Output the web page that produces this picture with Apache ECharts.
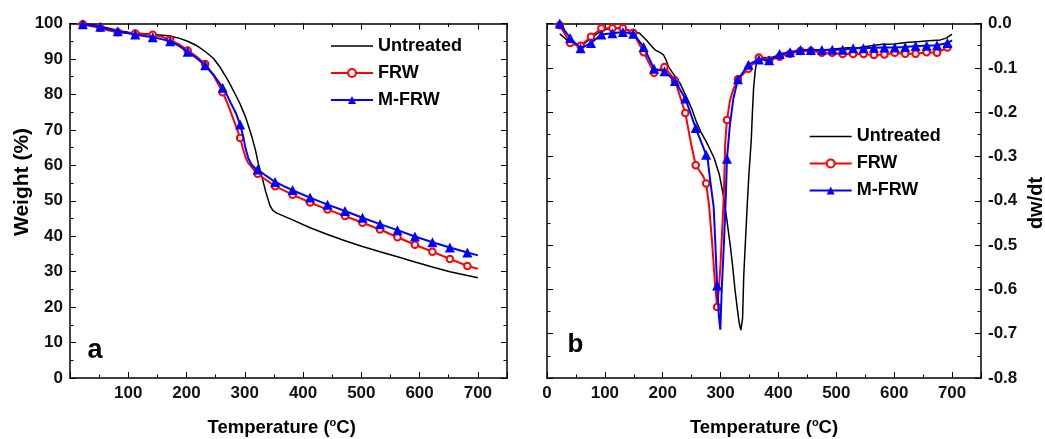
<!DOCTYPE html>
<html>
<head>
<meta charset="utf-8">
<script src="https://cdn.jsdelivr.net/npm/echarts@6/dist/echarts.min.js"></script>
<style>
  html, body { margin: 0; padding: 0; background: #fff; }
  #chart { width: 1045px; height: 439px; }
</style>
</head>
<body>
<div id="chart"></div>
<script>
// ---------- DATA ----------
const seriesNames = ['Untreated', 'FRW', 'M-FRW'];

// (a) TGA: weight (%) vs temperature (°C)
const tgaMarkT = [22,52,82,112,142,172,202,232,262,292,322,352,382,412,442,472,502,532,562,592,622,652,682];

const tgaUntreatedT = [22,40,52,70,82,100,112,130,142,160,172,188,202,217,232,246,257,270,282,292,302,312,318,323,329,336,343,348,355,362,382,412,442,472,502,532,562,592,622,652,682,700];
const tgaUntreatedV = [100,99.6,99.2,98.5,98.0,97.5,97.3,97.1,96.9,96.7,96.5,95.8,95.0,93.8,92.1,90.2,87.8,84.3,80.6,77.3,73.3,68.1,64.5,60.6,57.0,52.5,48.7,47.3,46.5,46.0,44.6,42.4,40.5,38.7,37.1,35.6,34.2,32.7,31.3,30.0,28.9,28.3];

const tgaFrwT = [22,35,52,65,82,97,112,127,142,157,172,187,202,217,232,247,262,270,277,285,292,297,301,306,312,317,322,337,352,367,382,397,412,442,472,502,532,562,592,622,652,682,700];
const tgaFrwV = [99.8,99.3,98.8,98.1,97.5,97.3,97.2,97.0,96.8,96.3,95.4,94.1,92.4,90.7,88.6,85.2,80.6,77.6,74.5,71.0,67.7,64.6,62.4,60.6,59.5,58.4,57.6,55.8,54.1,52.9,51.7,50.6,49.5,47.5,45.7,43.8,41.9,39.7,37.6,35.6,33.6,31.6,30.8];

const tgaMfrwT = [22,35,52,65,82,97,112,127,142,157,172,187,202,217,232,247,262,270,277,285,292,297,301,306,312,317,322,337,352,367,382,397,412,442,472,502,532,562,592,622,652,682,700];
const tgaMfrwV = [99.8,99.5,99.1,98.4,97.8,97.3,96.9,96.5,96.1,95.6,95.0,93.7,92.0,90.3,88.2,85.4,81.9,79.6,77.2,74.6,71.5,68.3,65.0,62.0,60.1,59.3,58.8,57.0,55.3,54.1,53.0,51.9,50.9,48.9,47.1,45.2,43.4,41.7,39.9,38.3,36.8,35.4,34.6];

// (b) DTG: dw/dt vs temperature (°C)
const dtgMarkT = [22,40,58,76,94,113,131,149,167,185,203,221,239,257,275,294,311,330,348,366,384,402,420,438,456,475,493,511,529,547,565,583,601,619,637,656,674,692];

const dtgUntreatedT = [22,40,58,76,94,112,131,149,160,172,180,187,195,201,206,210,218,230,241,250,258,266,275,282,289,298,305,311,317,321,325,329,332,335,338,340,343,346,349,353,355,357,360,363,368,375,385,400,420,440,460,480,500,520,540,560,580,600,620,640,660,680,690,700];
const dtgUntreatedV = [-0.023,-0.044,-0.052,-0.033,-0.016,-0.011,-0.011,-0.018,-0.022,-0.038,-0.050,-0.060,-0.065,-0.070,-0.083,-0.098,-0.113,-0.135,-0.166,-0.192,-0.221,-0.245,-0.266,-0.285,-0.304,-0.342,-0.390,-0.445,-0.504,-0.550,-0.602,-0.645,-0.675,-0.692,-0.665,-0.570,-0.489,-0.410,-0.339,-0.263,-0.200,-0.146,-0.105,-0.082,-0.075,-0.077,-0.078,-0.072,-0.066,-0.062,-0.061,-0.060,-0.057,-0.055,-0.054,-0.050,-0.047,-0.046,-0.043,-0.041,-0.039,-0.037,-0.033,-0.024];

const dtgFrwT = [22,40,58,76,94,113,131,149,167,185,203,221,239,248,257,265,270,275,280,285,290,294,297,300,303,305.5,308,311,316,322,330,348,366,384,402,420,438,456,475,493,511,529,547,565,583,601,619,637,656,674,692,700];
const dtgFrwV = [-0.004,-0.044,-0.050,-0.030,-0.011,-0.011,-0.011,-0.021,-0.065,-0.111,-0.098,-0.128,-0.202,-0.265,-0.320,-0.335,-0.345,-0.361,-0.410,-0.489,-0.580,-0.640,-0.600,-0.540,-0.460,-0.390,-0.270,-0.218,-0.175,-0.148,-0.126,-0.102,-0.077,-0.083,-0.075,-0.068,-0.062,-0.062,-0.066,-0.066,-0.069,-0.069,-0.069,-0.071,-0.070,-0.066,-0.068,-0.068,-0.065,-0.066,-0.054,-0.051];

const dtgMfrwT = [22,40,58,76,94,113,131,149,167,185,203,221,239,257,275,278,282,288,291,294,297,299.5,302,306,309,311,316,322,330,348,366,384,402,420,438,456,475,493,511,529,547,565,583,601,619,637,656,674,692,700];
const dtgMfrwV = [0.0,-0.033,-0.056,-0.044,-0.025,-0.022,-0.019,-0.023,-0.053,-0.102,-0.108,-0.130,-0.169,-0.236,-0.296,-0.310,-0.354,-0.414,-0.500,-0.591,-0.660,-0.691,-0.600,-0.489,-0.390,-0.305,-0.230,-0.170,-0.126,-0.093,-0.081,-0.083,-0.069,-0.065,-0.060,-0.060,-0.060,-0.059,-0.059,-0.056,-0.056,-0.055,-0.054,-0.054,-0.053,-0.051,-0.050,-0.049,-0.044,-0.038];

// ---------- CHART ----------
const FONT = "'Liberation Sans', Arial, sans-serif";
const RED = '#ff0000', BLUE = '#0000ff', BLACK = '#000000';

function pts(T, V, marks) {
  return T.map((t, i) => (marks && marks.indexOf(t) >= 0)
    ? { value: [t, V[i]] }
    : { value: [t, V[i]], symbol: 'none' });
}

const grids = [
  { left: 70, top: 23.5, width: 437, height: 354.5 },
  { left: 547, top: 23.5, width: 434, height: 354.5 }
];

const lblStyle = { fontFamily: FONT, fontWeight: 'bold', fontSize: 17, color: '#111' };
const TICK_MAJOR = { show: true, inside: true, length: 6, lineStyle: { color: '#000', width: 1 } };
const TICK_MINOR = { show: true, inside: true, length: 3.5, lineStyle: { color: '#000', width: 1 } };
const LINE_ON = { show: true, onZero: false, lineStyle: { color: '#000', width: 1.5 } };
const LINE_OFF = { show: false, onZero: false };

function xAxes(gi, showZero) {
  const base = { type: 'value', gridIndex: gi, min: 0, max: 750, splitLine: { show: false } };
  return [
    Object.assign({}, base, { position: 'bottom', interval: 100, axisLine: LINE_ON, axisTick: TICK_MAJOR,
      axisLabel: Object.assign({ margin: 7, formatter: v => (v % 100 !== 0 || (v === 0 && !showZero)) ? '' : String(v) }, lblStyle) }),
    Object.assign({}, base, { position: 'bottom', interval: 50, axisLine: LINE_OFF, axisTick: TICK_MINOR, axisLabel: { show: false } }),
    Object.assign({}, base, { position: 'top', interval: 100, axisLine: LINE_ON, axisTick: TICK_MAJOR, axisLabel: { show: false } }),
    Object.assign({}, base, { position: 'top', interval: 50, axisLine: LINE_OFF, axisTick: TICK_MINOR, axisLabel: { show: false } })
  ];
}

function yAxes(gi, min, max, major, minor, labelSide, fmt) {
  const base = { type: 'value', gridIndex: gi, min: min, max: max, splitLine: { show: false } };
  const out = [];
  ['left', 'right'].forEach(side => {
    out.push(Object.assign({}, base, { position: side, interval: major, axisLine: LINE_ON, axisTick: TICK_MAJOR,
      axisLabel: side === labelSide ? Object.assign({ margin: 7, formatter: fmt }, lblStyle) : { show: false } }));
    out.push(Object.assign({}, base, { position: side, interval: minor, axisLine: LINE_OFF, axisTick: TICK_MINOR, axisLabel: { show: false } }));
  });
  return out;
}

const xAxis = xAxes(0, false).concat(xAxes(1, true));
const yAxis = yAxes(0, 0, 100, 10, 5, 'left', v => String(Math.round(v)))
  .concat(yAxes(1, -0.8, 0, 0.1, 0.05, 'right', v => (Math.abs(v) < 1e-9 ? 0 : v).toFixed(1)));

function mkSeries(xi, yi, T3, V3, marks) {
  return [
    { name: seriesNames[0], type: 'line', xAxisIndex: xi, yAxisIndex: yi, data: pts(T3[0], V3[0], null),
      symbol: 'none', color: BLACK, lineStyle: { color: BLACK, width: 1.5 }, animation: false, z: 2 },
    { name: seriesNames[1], type: 'line', xAxisIndex: xi, yAxisIndex: yi, data: pts(T3[1], V3[1], marks),
      symbol: 'emptyCircle', symbolSize: 6.5, showAllSymbol: true, color: RED,
      itemStyle: { color: RED, borderColor: RED, borderWidth: 1.1 },
      lineStyle: { color: RED, width: 2 }, animation: false, z: 3 },
    { name: seriesNames[2], type: 'line', xAxisIndex: xi, yAxisIndex: yi, data: pts(T3[2], V3[2], marks),
      symbol: 'triangle', symbolSize: 10, showAllSymbol: true, color: BLUE,
      itemStyle: { color: BLUE },
      lineStyle: { color: BLUE, width: 2 }, animation: false, z: 4 }
  ];
}

const series = mkSeries(0, 0, [tgaUntreatedT, tgaFrwT, tgaMfrwT], [tgaUntreatedV, tgaFrwV, tgaMfrwV], tgaMarkT)
  .concat(mkSeries(4, 6, [dtgUntreatedT, dtgFrwT, dtgMfrwT], [dtgUntreatedV, dtgFrwV, dtgMfrwV], dtgMarkT));

function legend(left, top) {
  return {
    orient: 'vertical', left: left, top: top, padding: 0, itemWidth: 42, itemHeight: 10, itemGap: 9,
    selectedMode: false,
    textStyle: { fontFamily: FONT, fontWeight: 'bold', fontSize: 18, color: '#000' },
    data: [
      { name: 'Untreated', icon: 'path://M0,0H40V1.5H0Z' },
      { name: 'FRW' },
      { name: 'M-FRW' }
    ]
  };
}

function tempName(cx) {
  return {
    type: 'text', x: cx, y: 428,
    style: {
      text: '{a|Temperature (}{s|o}{a|C)}',
      align: 'center', verticalAlign: 'middle',
      rich: {
        a: { fontFamily: FONT, fontWeight: 'bold', fontSize: 18.5, lineHeight: 22, fill: '#000' },
        s: { fontFamily: FONT, fontWeight: 'bold', fontSize: 11, lineHeight: 22, verticalAlign: 'top', fill: '#000', padding: [0, 0, 8, 0] }
      }
    }
  };
}

const graphic = [
  { type: 'text', x: 22, y: 182, rotation: Math.PI / 2,
    style: { text: 'Weight (%)', align: 'center', verticalAlign: 'middle', font: "bold 21px " + FONT, fill: '#000' } },
  { type: 'text', x: 1036, y: 203, rotation: Math.PI / 2,
    style: { text: 'dw/dt', align: 'center', verticalAlign: 'middle', font: "bold 20px " + FONT, fill: '#000' } },
  { type: 'text', x: 95, y: 351,
    style: { text: 'a', align: 'center', verticalAlign: 'middle', font: "bold 27px " + FONT, fill: '#000' } },
  { type: 'text', x: 575.5, y: 345,
    style: { text: 'b', align: 'center', verticalAlign: 'middle', font: "bold 26px " + FONT, fill: '#000' } },
  tempName(281.7),
  tempName(764)
];

const chart = echarts.init(document.getElementById('chart'), null, { renderer: 'canvas' });
chart.setOption({
  backgroundColor: '#ffffff',
  animation: false,
  grid: grids,
  xAxis: xAxis,
  yAxis: yAxis,
  legend: [legend(330, 37), legend(808.7, 127.5)],
  graphic: graphic,
  series: series
});
</script>
</body>
</html>
